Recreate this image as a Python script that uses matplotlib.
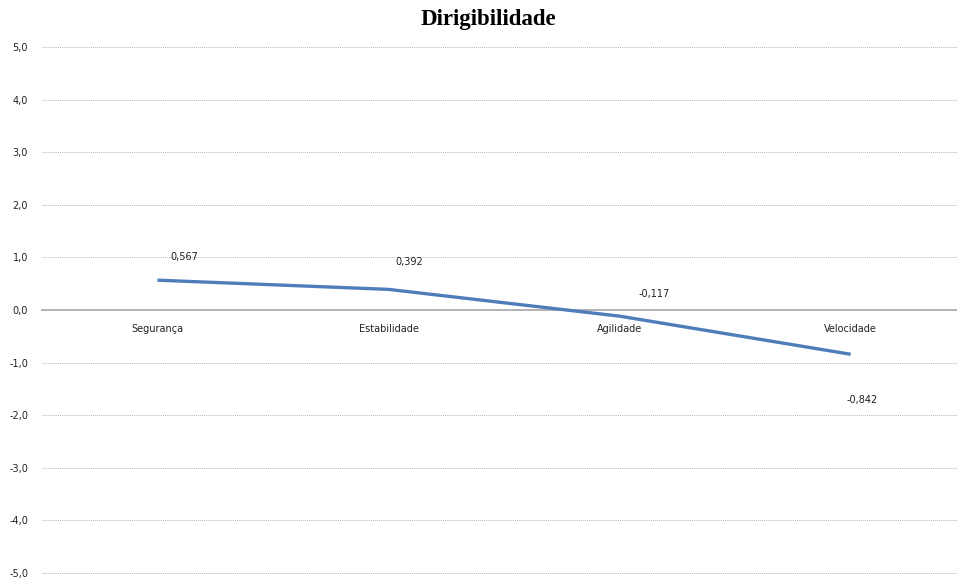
import matplotlib
matplotlib.use("Agg")
import matplotlib.pyplot as plt

categories = ["Segurança", "Estabilidade", "Agilidade", "Velocidade"]
values = [0.567, 0.392, -0.117, -0.842]
value_labels = ["0,567", "0,392", "-0,117", "-0,842"]
yticks = [-5, -4, -3, -2, -1, 0, 1, 2, 3, 4, 5]
ytick_labels = ["-5,0", "-4,0", "-3,0", "-2,0", "-1,0", "0,0", "1,0", "2,0", "3,0", "4,0", "5,0"]

W, H = 957, 580
fig = plt.figure(figsize=(W / 100, H / 100), dpi=100)
ax = fig.add_axes([42 / W, 1 - 573 / H, (W - 42) / W, (573 - 47) / H])

x = list(range(len(categories)))
ax.plot(x, values, color="#4F7DBA", linewidth=2.4, solid_capstyle="butt", zorder=3)

ax.set_xlim(-0.5, 3.46)
ax.set_ylim(-5, 5)
ax.set_yticks(yticks)
ax.set_yticklabels(ytick_labels, fontsize=7, color="#222222")
ax.tick_params(axis="y", length=0, pad=10)
ax.set_xticks([])

for y in yticks:
    if y == 0:
        ax.axhline(0, color="#A6A6A6", linewidth=1.2, zorder=2, clip_on=False)
    else:
        ax.axhline(y, color="#B4B4B4", linewidth=0.7, linestyle=(0, (1, 1)),
                   zorder=1, clip_on=False)

for xi, name in zip(x, categories):
    ax.annotate(name, (xi, 0), xytext=(0, -14), textcoords="offset points",
                ha="center", va="center", fontsize=7, color="#222222")

# label offsets in points relative to each data point
offsets = [(19, 17), (15, 20), (25, 16), (8, -33)]
for xi, v, lab, off in zip(x, values, value_labels, offsets):
    ax.annotate(lab, (xi, v), xytext=off, textcoords="offset points",
                ha="center", va="center", fontsize=7, color="#222222")

for s in ax.spines.values():
    s.set_visible(False)

fig.text(488 / W, 1 - 19 / H, "Dirigibilidade", ha="center", va="center",
         fontsize=16.5, fontweight="bold", family="Liberation Serif")

fig.savefig("out.png", dpi=100)
